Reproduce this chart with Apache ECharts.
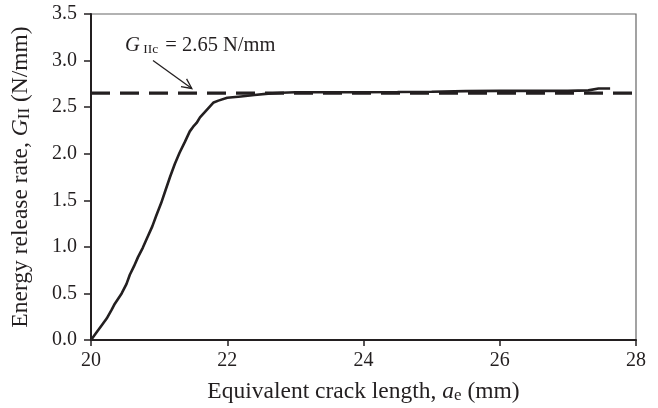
<!DOCTYPE html>
<html>
<head>
<meta charset="utf-8">
<script src="https://cdn.jsdelivr.net/npm/echarts@6/dist/echarts.min.js"></script>
<style>
html,body{margin:0;padding:0;background:#fff;}
#main{width:658px;height:408px;}
</style>
</head>
<body>
<div id="main"></div>
<script>
// crack length (mm) and energy release rate (N/mm)
var crackLen = [20.0, 20.04, 20.08, 20.15, 20.23, 20.3, 20.35, 20.45, 20.52, 20.57, 20.63, 20.69, 20.76, 20.82, 20.9, 20.96, 21.03, 21.09, 21.16, 21.23, 21.3, 21.38, 21.45, 21.5, 21.55, 21.6, 21.65, 21.7, 21.75, 21.8, 21.87, 22.0, 22.2, 22.4, 22.6, 22.8, 23.0, 23.5, 24.0, 24.5, 25.0, 25.5, 26.0, 26.5, 27.0, 27.3, 27.45, 27.62];
var energyRate = [0.0, 0.04, 0.08, 0.15, 0.23, 0.32, 0.39, 0.5, 0.6, 0.7, 0.79, 0.89, 0.99, 1.09, 1.22, 1.34, 1.47, 1.6, 1.75, 1.89, 2.01, 2.13, 2.24, 2.29, 2.33, 2.39, 2.43, 2.47, 2.51, 2.55, 2.57, 2.6, 2.615, 2.63, 2.645, 2.655, 2.66, 2.66, 2.66, 2.662, 2.665, 2.672, 2.675, 2.675, 2.675, 2.68, 2.7, 2.7];
var critical = 2.65;
var xTicks = [20, 22, 24, 26, 28];
var yTicks = [0, 0.5, 1, 1.5, 2, 2.5, 3, 3.5];

var curveData = [];
for (var i = 0; i < crackLen.length; i++) {
	curveData.push([crackLen[i], energyRate[i]]);
}

var serif = '"Liberation Serif", "Times New Roman", serif';
var myChart = echarts.init(document.getElementById('main'));

// rich styles for axis titles (italic symbol + subscript)
var titleRich = {
	t: {fontFamily: serif, fontSize: 23.5, color: '#231f20'},
	i: {fontFamily: serif, fontSize: 23.5, fontStyle: 'italic', color: '#231f20'},
	s: {fontFamily: serif, fontSize: 17, color: '#231f20', verticalAlign: 'bottom', padding: [7, 0, 0, 0]}
};

option = {
	animation: false,
	backgroundColor: '#fff',
	grid: {
		left: 91, right: 22, top: 14, bottom: 68,
		outerBoundsMode: 'none',
		containLabel: false,
		show: true, borderColor: '#666', borderWidth: 1.2
	},
	xAxis: {
		type: 'value',
		min: xTicks[0], max: xTicks[xTicks.length - 1], interval: 2,
		axisLine: {show: true, onZero: false, lineStyle: {color: '#231f20', width: 2}},
		axisTick: {show: true, inside: false, length: 6, lineStyle: {color: '#231f20', width: 1.5}},
		axisLabel: {color: '#231f20', fontFamily: serif, fontSize: 20, margin: 11},
		splitLine: {show: false},
		name: '{t|Equivalent crack length, }{i|a}{s|e}{t| (mm)}',
		nameLocation: 'middle',
		nameGap: 40,
		nameTextStyle: {rich: titleRich}
	},
	yAxis: {
		type: 'value',
		min: 0, max: 3.5, interval: 0.5,
		axisLine: {show: true, onZero: false, lineStyle: {color: '#231f20', width: 2}},
		axisTick: {show: true, inside: false, length: 7, lineStyle: {color: '#231f20', width: 1.5}},
		axisLabel: {
			color: '#231f20', fontFamily: serif, fontSize: 20, margin: 14,
			formatter: function (v) { return v.toFixed(1); }
		},
		splitLine: {show: false},
		name: '{t|Energy release rate, }{i|G}{s|II}{t| (N/mm)}',
		nameLocation: 'middle',
		nameRotate: 90,
		nameGap: 58,
		nameTextStyle: {rich: titleRich}
	},
	series: [
		{
			name: 'GIIc',
			type: 'line',
			data: [[xTicks[0], critical], [xTicks[xTicks.length - 1], critical]],
			symbol: 'none',
			clip: false,
			lineStyle: {color: '#231f20', width: 3.2, type: [19, 10]},
			z: 3
		},
		{
			name: 'GII',
			type: 'line',
			data: curveData,
			symbol: 'none',
			lineStyle: {color: '#231f20', width: 2.6},
			z: 4
		}
	]
};
myChart.setOption(option);

// annotation: label and arrow placed from data coordinates
function drawNote() {
	var txt = myChart.convertToPixel({gridIndex: 0}, [20.5, 3.13]);
	var a0 = myChart.convertToPixel({gridIndex: 0}, [20.91, 3.0]);
	var a1 = myChart.convertToPixel({gridIndex: 0}, [21.48, 2.7]);
	var ang = Math.atan2(a1[1] - a0[1], a1[0] - a0[0]);
	var hl = 11, hw = 0.45;
	var h1 = [a1[0] - hl * Math.cos(ang - hw), a1[1] - hl * Math.sin(ang - hw)];
	var h2 = [a1[0] - hl * Math.cos(ang + hw), a1[1] - hl * Math.sin(ang + hw)];
	myChart.setOption({
		graphic: [
			{
				type: 'text', left: txt[0], top: txt[1] - 13,
				style: {
					text: '{i|G}{s| IIc}{t| = 2.65 N/mm}',
					rich: {
						t: {fontFamily: serif, fontSize: 20.5, fill: '#231f20'},
						i: {fontFamily: serif, fontSize: 20.5, fontStyle: 'italic', fill: '#231f20'},
						s: {fontFamily: serif, fontSize: 13.5, fill: '#231f20', verticalAlign: 'bottom', padding: [7, 2, 0, 0]}
					}
				}
			},
			{
				type: 'line',
				shape: {x1: a0[0], y1: a0[1], x2: a1[0], y2: a1[1]},
				style: {stroke: '#231f20', lineWidth: 1.3}
			},
			{
				type: 'polyline',
				shape: {points: [h1, a1, h2]},
				style: {stroke: '#231f20', lineWidth: 1.3, fill: null}
			}
		]
	});
}
drawNote();
</script>
</body>
</html>
